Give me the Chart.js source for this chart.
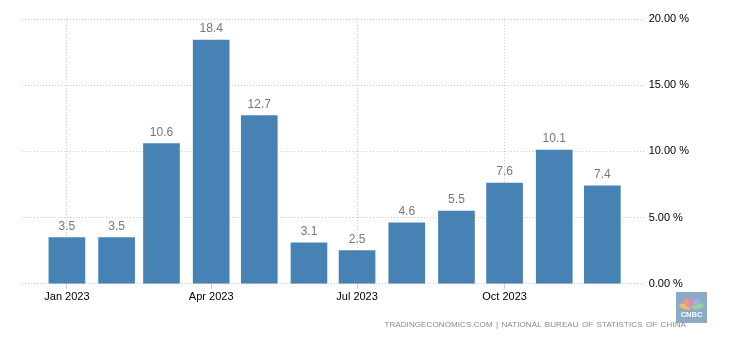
<!DOCTYPE html>
<html>
<head>
<meta charset="utf-8">
<script src="https://cdn.jsdelivr.net/npm/chart.js@4/dist/chart.umd.min.js"></script>
<style>
  html, body { margin: 0; padding: 0; background: #fff; }
  #wrap { position: relative; width: 730px; height: 340px; }
  #source {
    position: absolute; right: 44px; top: 320px;
    font: 8px "Liberation Sans", Arial, sans-serif; color: #8a8a8a;
    letter-spacing: 0.1px; word-spacing: 1px; white-space: nowrap;
  }
  #logo { position: absolute; left: 676px; top: 292px; width: 31px; height: 31px; }
</style>
</head>
<body>
<div id="wrap">
  <canvas id="chart" width="730" height="340"></canvas>
  <div id="source">TRADINGECONOMICS.COM | NATIONAL BUREAU OF STATISTICS OF CHINA</div>
  <svg id="logo" viewBox="0 0 31 31">
    <rect width="31" height="31" fill="#8aaac6"/>
    <g opacity="0.9">
      <ellipse cx="15.5" cy="10" rx="2.6" ry="6" transform="rotate(-70 15.5 17)" fill="#f6c26b"/>
      <ellipse cx="15.5" cy="10" rx="2.6" ry="6" transform="rotate(-35 15.5 17)" fill="#f29a7c"/>
      <ellipse cx="15.5" cy="10" rx="2.6" ry="6" fill="#d98bb3"/>
      <ellipse cx="15.5" cy="10" rx="2.6" ry="6" transform="rotate(35 15.5 17)" fill="#9db3e0"/>
      <ellipse cx="15.5" cy="10" rx="2.6" ry="6" transform="rotate(70 15.5 17)" fill="#9fd19a"/>
    </g>
    <text x="15.5" y="25" text-anchor="middle" font-family="Liberation Sans, Arial" font-weight="bold" font-size="7.5" fill="#fff">CNBC</text>
  </svg>
</div>
<script>
const months = ['Jan', 'Feb', 'Mar', 'Apr', 'May', 'Jun', 'Jul', 'Aug', 'Sep', 'Oct', 'Nov', 'Dec'];
const year = 2023;
const values = [3.5, 3.5, 10.6, 18.4, 12.7, 3.1, 2.5, 4.6, 5.5, 7.6, 10.1, 7.4];
const labeledMonths = [0, 3, 6, 9];
const yTicks = [0, 5, 10, 15, 20];

// days since Jan 1 for each month start, so the x axis spaces like a time axis
const dayOf = m => Math.round((new Date(year, m, 1) - new Date(year, 0, 1)) / 86400000);
const points = values.map((v, i) => ({ x: dayOf(i), y: v }));

const barLabels = {
  id: 'barLabels',
  afterDatasetsDraw(chart) {
    const ctx = chart.ctx;
    const meta = chart.getDatasetMeta(0);
    ctx.save();
    ctx.font = '12px "Liberation Sans", Arial, sans-serif';
    ctx.fillStyle = '#777';
    ctx.textAlign = 'center';
    ctx.textBaseline = 'bottom';
    meta.data.forEach((bar, i) => {
      ctx.fillText(values[i].toFixed(1), bar.x, bar.y - 5);
    });
    ctx.restore();
  }
};

new Chart(document.getElementById('chart').getContext('2d'), {
  type: 'bar',
  data: {
    datasets: [{
      data: points,
      backgroundColor: '#4682b4',
      barThickness: 36
    }]
  },
  options: {
    responsive: false,
    animation: false,
    layout: { padding: { left: 22, right: 38, top: 19, bottom: 34 } },
    plugins: { legend: { display: false }, tooltip: { enabled: false } },
    scales: {
      x: {
        type: 'linear',
        offset: false,
        min: -28,
        max: 361,
        afterBuildTicks: axis => { axis.ticks = labeledMonths.map(m => ({ value: dayOf(m) })); },
        ticks: {
          autoSkip: false,
          maxRotation: 0,
          padding: 2,
          color: '#000',
          font: { family: '"Liberation Sans", Arial, sans-serif', size: 11 },
          callback: v => {
            const m = labeledMonths.find(k => dayOf(k) === v);
            return m === undefined ? '' : months[m] + ' ' + year;
          }
        },
        grid: { offset: false, color: '#ccc', tickLength: 5, drawTicks: true },
        border: { display: false, dash: [1, 2] }
      },
      y: {
        position: 'right',
        min: 0,
        max: 20,
        afterBuildTicks: axis => { axis.ticks = yTicks.map(v => ({ value: v })); },
        ticks: {
          padding: 3,
          color: '#000',
          font: { family: '"Liberation Sans", Arial, sans-serif', size: 11 },
          callback: v => v.toFixed(2) + ' %'
        },
        grid: { color: '#ccc', drawTicks: false },
        border: { display: false, dash: [1, 2] }
      }
    }
  },
  plugins: [barLabels]
});
</script>
</body>
</html>
